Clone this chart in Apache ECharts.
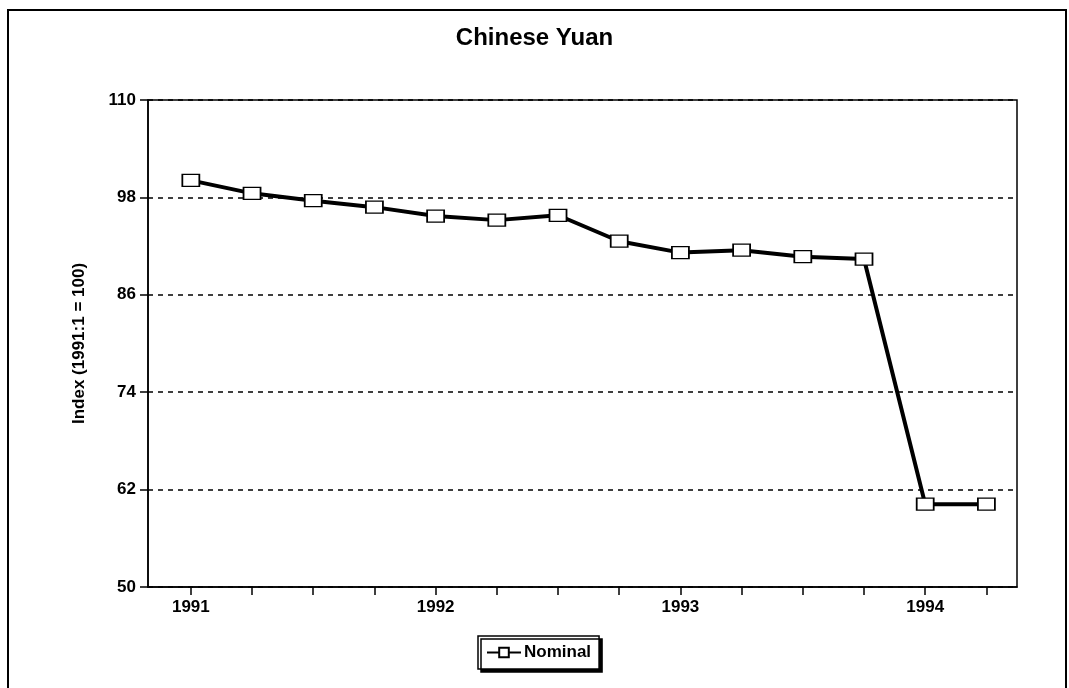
<!DOCTYPE html>
<html>
<head>
<meta charset="utf-8">
<script src="https://cdn.jsdelivr.net/npm/echarts@6/dist/echarts.min.js"></script>
<style>
  html, body { margin: 0; padding: 0; background: #fff; }
  #chart { width: 1069px; height: 688px; }
</style>
</head>
<body>
<div id="chart"></div>
<script>
// quarters since 1991:1
const quarters = [0, 1, 2, 3, 4, 5, 6, 7, 8, 9, 10, 11, 12, 13]
const nominal = [100.1, 98.5, 97.6, 96.8, 95.7, 95.2, 95.8, 92.6, 91.2, 91.5, 90.7, 90.4, 60.2, 60.2]
const yearTicks = [0, 4, 8, 12]
const yearLabels = ['1991', '1992', '1993', '1994']

const font = 'Liberation Sans, Arial, sans-serif'
const chart = echarts.init(document.getElementById('chart'))

chart.setOption({
  animation: false,
  backgroundColor: '#fff',
  title: {
    text: 'Chinese Yuan',
    left: 'center',
    top: 21,
    textStyle: { fontFamily: font, fontWeight: 'bold', fontSize: 24, color: '#000' }
  },
  graphic: [
    {
      type: 'rect',
      shape: { x: 8, y: 10, width: 1058, height: 690 },
      style: { fill: 'none', stroke: '#000', lineWidth: 2 },
      silent: true
    }
  ],
  legend: {
    data: ['Nominal'],
    left: 478,
    top: 636,
    backgroundColor: '#fff',
    borderColor: '#000',
    borderWidth: 1.5,
    padding: [8, 8],
    shadowColor: '#000',
    shadowOffsetX: 3,
    shadowOffsetY: 3,
    shadowBlur: 0.5,
    itemWidth: 34,
    itemHeight: 12,
    itemGap: 4,
    textStyle: { fontFamily: font, fontWeight: 'bold', fontSize: 17, color: '#000', padding: [0, 0, 0, -2] }
  },
  grid: {
    left: 148,
    right: 52,
    top: 100,
    bottom: 101,
    show: true,
    borderColor: '#000',
    borderWidth: 1.5
  },
  xAxis: {
    type: 'value',
    min: -0.7,
    max: 13.5,
    axisLine: { onZero: false, lineStyle: { color: '#000', width: 1.5 } },
    axisTick: {
      show: true,
      customValues: quarters,
      length: 8,
      lineStyle: { color: '#000', width: 1.5 }
    },
    axisLabel: {
      customValues: yearTicks,
      formatter: v => yearLabels[yearTicks.indexOf(v)],
      margin: 12,
      fontFamily: font,
      fontWeight: 'bold',
      fontSize: 17,
      color: '#000'
    },
    splitLine: { show: false }
  },
  yAxis: {
    type: 'value',
    min: 50,
    max: 110,
    interval: 12,
    name: 'Index (1991:1 = 100)',
    nameLocation: 'middle',
    nameGap: 60,
    nameRotate: 90,
    nameTextStyle: { fontFamily: font, fontWeight: 'bold', fontSize: 17, color: '#000' },
    axisLine: { show: true, onZero: false, lineStyle: { color: '#000', width: 1.5 } },
    axisTick: { show: true, length: 8, lineStyle: { color: '#000', width: 1.5 } },
    axisLabel: {
      margin: 12,
      fontFamily: font,
      fontWeight: 'bold',
      fontSize: 17,
      color: '#000'
    },
    splitLine: {
      show: true,
      lineStyle: { color: '#000', width: 1.5, type: [5, 5] }
    }
  },
  series: [
    {
      name: 'Nominal',
      type: 'line',
      data: quarters.map((q, i) => [q, nominal[i]]),
      symbol: 'rect',
      symbolSize: [17, 12],
      lineStyle: { color: '#000', width: 4 },
      itemStyle: { color: '#fff', borderColor: '#000', borderWidth: 1.5 }
    }
  ]
})
</script>
</body>
</html>
